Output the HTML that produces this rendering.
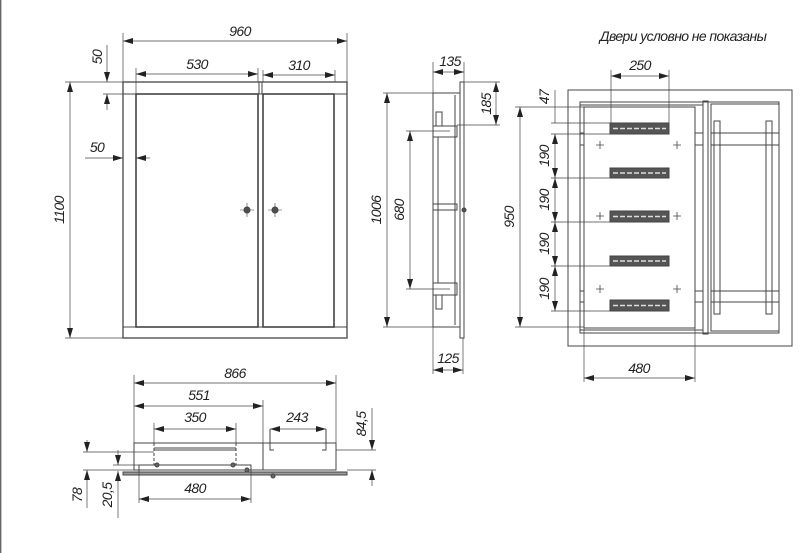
<!DOCTYPE html>
<html><head><meta charset="utf-8"><style>
body{margin:0;background:#fff}
svg{display:block}
text{font-family:"Liberation Sans",sans-serif;font-style:italic;font-size:14px;letter-spacing:-0.6px;fill:#222}
</style></head><body>
<svg width="800" height="553" viewBox="0 0 800 553" xmlns="http://www.w3.org/2000/svg">
<defs>
<marker id="a" viewBox="0 0 10 6" refX="10" refY="3" markerWidth="10" markerHeight="6" orient="auto-start-reverse" markerUnits="userSpaceOnUse"><path d="M0,0L10,3L0,6z" fill="#222"/></marker>
</defs>
<line x1="0.7" y1="0" x2="0.7" y2="553" stroke="#666" stroke-width="1.4"/>
<g fill="none" stroke="#444" stroke-width="1">
<!-- front view -->
<rect x="123" y="82" width="224" height="256" stroke-width="1.3"/>
<line x1="123" y1="94" x2="347" y2="94"/>
<line x1="123" y1="327" x2="347" y2="327"/>
<line x1="136" y1="94" x2="136" y2="327"/>
<line x1="334" y1="94" x2="334" y2="327"/>
<rect x="136" y="94" width="122" height="233" stroke-width="1.6"/>
<rect x="263" y="94" width="71" height="233" stroke-width="1.6"/>
<line x1="259" y1="82" x2="259" y2="94"/><line x1="262" y1="82" x2="262" y2="94"/>
<circle cx="247" cy="210" r="3" fill="#555"/><circle cx="275" cy="210" r="3" fill="#555"/>
<path d="M240 210h14M247 203v14M268 210h14M275 203v14" stroke-width=".6"/>
<!-- front dims -->
<line x1="123" y1="33" x2="123" y2="82" stroke-width=".7"/><line x1="347" y1="33" x2="347" y2="82" stroke-width=".7"/>
<line x1="123" y1="41" x2="347" y2="41" marker-start="url(#a)" marker-end="url(#a)" stroke-width=".7"/>
<line x1="136" y1="68" x2="136" y2="94" stroke-width=".7"/><line x1="258" y1="68" x2="258" y2="82" stroke-width=".7"/>
<line x1="136" y1="74" x2="258" y2="74" marker-start="url(#a)" marker-end="url(#a)" stroke-width=".7"/>
<line x1="263" y1="70" x2="263" y2="82" stroke-width=".7"/><line x1="335" y1="70" x2="335" y2="82" stroke-width=".7"/>
<line x1="263" y1="75" x2="335" y2="75" marker-start="url(#a)" marker-end="url(#a)" stroke-width=".7"/>
<line x1="107" y1="45" x2="107" y2="82" marker-end="url(#a)" stroke-width=".7"/>
<line x1="107" y1="110" x2="107" y2="94" marker-end="url(#a)" stroke-width=".7"/>
<line x1="103" y1="94" x2="123" y2="94" stroke-width=".7"/>
<line x1="65" y1="82" x2="123" y2="82" stroke-width=".7"/><line x1="65" y1="338" x2="123" y2="338" stroke-width=".7"/>
<line x1="70" y1="82" x2="70" y2="338" marker-start="url(#a)" marker-end="url(#a)" stroke-width=".7"/>
<line x1="85" y1="158" x2="123" y2="158" marker-end="url(#a)" stroke-width=".7"/>
<line x1="150" y1="158" x2="136" y2="158" marker-end="url(#a)" stroke-width=".7"/>
<!-- side view -->
<rect x="433" y="93" width="27" height="234"/>
<rect x="460" y="82" width="4" height="256"/>
<line x1="455" y1="95" x2="455" y2="325"/>
<line x1="438" y1="137" x2="438" y2="283"/>
<rect x="433" y="126" width="24" height="11"/><rect x="433" y="283" width="24" height="12"/>
<rect x="433" y="204" width="24" height="6"/>
<rect x="436" y="112" width="6" height="14"/><rect x="436" y="295" width="6" height="14"/>
<circle cx="464" cy="210" r="2" fill="#555"/>
<line x1="433" y1="62" x2="433" y2="93" stroke-width=".7"/><line x1="464" y1="62" x2="464" y2="82" stroke-width=".7"/>
<line x1="433" y1="72" x2="464" y2="72" marker-start="url(#a)" marker-end="url(#a)" stroke-width=".7"/>
<line x1="464" y1="82" x2="500" y2="82" stroke-width=".7"/><line x1="457" y1="125" x2="500" y2="125" stroke-width=".7"/>
<line x1="496" y1="82" x2="496" y2="125" marker-start="url(#a)" marker-end="url(#a)" stroke-width=".7"/>
<line x1="383" y1="93" x2="433" y2="93" stroke-width=".7"/><line x1="383" y1="327" x2="433" y2="327" stroke-width=".7"/>
<line x1="387" y1="93" x2="387" y2="327" marker-start="url(#a)" marker-end="url(#a)" stroke-width=".7"/>
<line x1="406" y1="131" x2="450" y2="131" stroke-width=".7"/><line x1="406" y1="289" x2="450" y2="289" stroke-width=".7"/>
<line x1="410" y1="131" x2="410" y2="289" marker-start="url(#a)" marker-end="url(#a)" stroke-width=".7"/>
<line x1="433" y1="327" x2="433" y2="374" stroke-width=".7"/><line x1="463" y1="338" x2="463" y2="374" stroke-width=".7"/>
<line x1="433" y1="370" x2="463" y2="370" marker-start="url(#a)" marker-end="url(#a)" stroke-width=".7"/>
<!-- right view -->
<rect x="568" y="90" width="224" height="256"/>
<rect x="580" y="102" width="199" height="231"/>
<rect x="584" y="107" width="111" height="221"/>
<line x1="580" y1="105" x2="703" y2="105"/><line x1="580" y1="330" x2="703" y2="330"/>
<rect x="703" y="101" width="5" height="233"/>
<rect x="711" y="104" width="68" height="227"/>
<path d="M580 133h4M580 145h4M695 133h8M695 145h8M711 133h68M711 145h68M580 291h4M580 302h4M695 291h8M695 302h8M711 291h68M711 302h68"/>
<rect x="714" y="121" width="6" height="193"/><rect x="766" y="121" width="6" height="193"/>
<g fill="#555" stroke="#444">
<rect x="610" y="123" width="59" height="11"/><rect x="610" y="168" width="59" height="10"/>
<rect x="610" y="211" width="59" height="11"/><rect x="610" y="256" width="59" height="10"/>
<rect x="610" y="300" width="59" height="11"/>
</g>
<path d="M613 128.5h53M613 173h53M613 216.5h53M613 261h53M613 305.5h53" stroke="#ddd" stroke-dasharray="5 2" stroke-width="1.5"/>
<path d="M596 145h8M600 141v8M673 145h8M677 141v8M596 216h8M600 212v8M673 216h8M677 212v8M596 289h8M600 285v8M673 289h8M677 285v8" stroke-width=".8"/>
<line x1="611" y1="70" x2="611" y2="123" stroke-width=".7"/><line x1="669" y1="70" x2="669" y2="123" stroke-width=".7"/>
<line x1="611" y1="76" x2="669" y2="76" marker-start="url(#a)" marker-end="url(#a)" stroke-width=".7"/>
<line x1="515" y1="107" x2="584" y2="107" stroke-width=".7"/><line x1="515" y1="327" x2="584" y2="327" stroke-width=".7"/>
<line x1="520" y1="107" x2="520" y2="327" marker-start="url(#a)" marker-end="url(#a)" stroke-width=".7"/>
<path d="M551 123h59M551 134h59M551 178h59M551 222h59M551 266h59M551 311h59" stroke-width=".7"/>
<line x1="555" y1="90" x2="555" y2="123" stroke-width=".7"/>
<line x1="555" y1="134" x2="555" y2="178" marker-start="url(#a)" marker-end="url(#a)" stroke-width=".7"/>
<line x1="555" y1="178" x2="555" y2="222" marker-start="url(#a)" marker-end="url(#a)" stroke-width=".7"/>
<line x1="555" y1="222" x2="555" y2="266" marker-start="url(#a)" marker-end="url(#a)" stroke-width=".7"/>
<line x1="555" y1="266" x2="555" y2="311" marker-start="url(#a)" marker-end="url(#a)" stroke-width=".7"/>
<line x1="584" y1="328" x2="584" y2="382" stroke-width=".7"/><line x1="695" y1="328" x2="695" y2="382" stroke-width=".7"/>
<line x1="584" y1="378" x2="695" y2="378" marker-start="url(#a)" marker-end="url(#a)" stroke-width=".7"/>
<!-- bottom view -->
<rect x="134" y="443" width="129" height="27"/>
<rect x="263" y="443" width="73" height="27"/>
<rect x="123" y="472" width="224" height="3" fill="#999"/>
<rect x="139" y="465" width="112" height="7"/>
<line x1="154" y1="448" x2="236" y2="448"/><line x1="154" y1="450" x2="236" y2="450"/>
<line x1="154" y1="443" x2="154" y2="465" stroke-dasharray="3 2"/><line x1="236" y1="443" x2="236" y2="465" stroke-dasharray="3 2"/>
<path d="M270 429v21h4M326 429v21h-4"/>
<circle cx="157" cy="465" r="2" fill="#666"/><circle cx="233" cy="465" r="2" fill="#666"/>
<circle cx="247" cy="470" r="2" fill="#666"/><circle cx="273" cy="476" r="2" fill="#666"/>
<line x1="134" y1="375" x2="134" y2="443" stroke-width=".7"/><line x1="336" y1="375" x2="336" y2="443" stroke-width=".7"/>
<line x1="134" y1="383" x2="336" y2="383" marker-start="url(#a)" marker-end="url(#a)" stroke-width=".7"/>
<line x1="263" y1="400" x2="263" y2="443" stroke-width=".7"/>
<line x1="134" y1="406" x2="263" y2="406" marker-start="url(#a)" marker-end="url(#a)" stroke-width=".7"/>
<line x1="154" y1="423" x2="154" y2="443" stroke-width=".7"/><line x1="236" y1="423" x2="236" y2="443" stroke-width=".7"/>
<line x1="154" y1="429" x2="236" y2="429" marker-start="url(#a)" marker-end="url(#a)" stroke-width=".7"/>
<line x1="270" y1="429" x2="326" y2="429" marker-start="url(#a)" marker-end="url(#a)" stroke-width=".7"/>
<line x1="139" y1="472" x2="139" y2="503" stroke-width=".7"/><line x1="251" y1="472" x2="251" y2="503" stroke-width=".7"/>
<line x1="139" y1="499" x2="251" y2="499" marker-start="url(#a)" marker-end="url(#a)" stroke-width=".7"/>
<line x1="336" y1="450" x2="376" y2="450" stroke-width=".7"/><line x1="347" y1="470" x2="376" y2="470" stroke-width=".7"/>
<line x1="372" y1="408" x2="372" y2="450" marker-end="url(#a)" stroke-width=".7"/>
<line x1="372" y1="486" x2="372" y2="470" marker-end="url(#a)" stroke-width=".7"/>
<line x1="83" y1="452" x2="154" y2="452" stroke-width=".7"/><line x1="83" y1="470" x2="134" y2="470" stroke-width=".7"/>
<line x1="87" y1="440" x2="87" y2="452" marker-end="url(#a)" stroke-width=".7"/>
<line x1="87" y1="508" x2="87" y2="470" marker-end="url(#a)" stroke-width=".7"/>
<line x1="113" y1="465" x2="139" y2="465" stroke-width=".7"/>
<line x1="118" y1="450" x2="118" y2="465" marker-end="url(#a)" stroke-width=".7"/>
<line x1="118" y1="518" x2="118" y2="471" marker-end="url(#a)" stroke-width=".7"/>
</g>
<text x="240" y="36" text-anchor="middle">960</text>
<text x="197" y="69" text-anchor="middle">530</text>
<text x="299" y="70" text-anchor="middle">310</text>
<text x="97" y="152" text-anchor="middle">50</text>
<text transform="translate(102,57) rotate(-90)" text-anchor="middle">50</text>
<text transform="translate(64,210) rotate(-90)" text-anchor="middle">1100</text>
<text x="450" y="66" text-anchor="middle">135</text>
<text transform="translate(491,104) rotate(-90)" text-anchor="middle">185</text>
<text transform="translate(381,210) rotate(-90)" text-anchor="middle">1006</text>
<text transform="translate(404,210) rotate(-90)" text-anchor="middle">680</text>
<text x="448" y="363" text-anchor="middle">125</text>
<text x="640" y="70" text-anchor="middle">250</text>
<text x="683" y="41" text-anchor="middle" font-size="12.5">Двери условно не показаны</text>
<text transform="translate(514,217) rotate(-90)" text-anchor="middle">950</text>
<text transform="translate(549,97) rotate(-90)" text-anchor="middle">47</text>
<text transform="translate(549,156) rotate(-90)" text-anchor="middle">190</text>
<text transform="translate(549,200) rotate(-90)" text-anchor="middle">190</text>
<text transform="translate(549,244) rotate(-90)" text-anchor="middle">190</text>
<text transform="translate(549,289) rotate(-90)" text-anchor="middle">190</text>
<text x="639" y="373" text-anchor="middle">480</text>
<text x="235" y="378" text-anchor="middle">866</text>
<text x="199" y="400" text-anchor="middle">551</text>
<text x="195" y="422" text-anchor="middle">350</text>
<text x="297" y="422" text-anchor="middle">243</text>
<text x="195" y="493" text-anchor="middle">480</text>
<text transform="translate(366,424) rotate(-90)" text-anchor="middle">84,5</text>
<text transform="translate(82,495) rotate(-90)" text-anchor="middle">78</text>
<text transform="translate(112,495) rotate(-90)" text-anchor="middle">20,5</text>
</svg>
</body></html>
